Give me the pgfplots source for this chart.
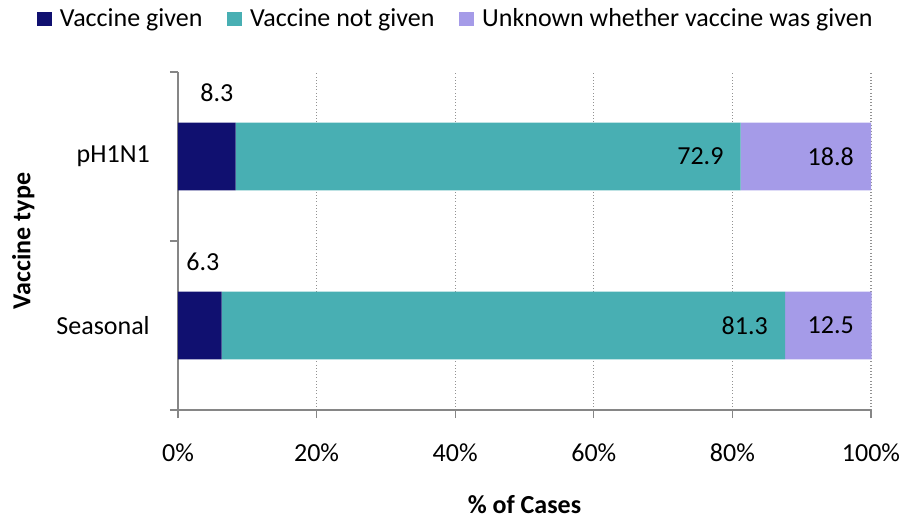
\documentclass[border=0pt]{standalone}
\usepackage{pgfplots}
\pgfplotsset{compat=1.18}
\usepackage{fontspec}
\setmainfont{Carlito}

\definecolor{cGiven}{HTML}{101070}
\definecolor{cNotGiven}{HTML}{48AFB3}
\definecolor{cUnknown}{HTML}{A59BE8}
\definecolor{axisgray}{HTML}{868686}

\newcommand{\chartfont}{\fontsize{19.5pt}{23pt}\selectfont}

\pgfplotsset{
  squarelegend/.style={
    legend image code/.code={\fill[##1] (0pt,-5.4pt) rectangle (11.25pt,5.4pt);}
  },
  frame/.style={
    at={(0,0)}, anchor=south west,
    scale only axis,
    width=519.75pt, height=253.5pt,
    xmin=0, xmax=100,
    ymin=-0.5, ymax=1.5,
    clip=false,
  },
}

\begin{document}
\begin{tikzpicture}
% page frame: 904 x 521 px at 0.75pt per px, axis box at (178px, 410px)
\path[use as bounding box] (-133.5pt,-83.25pt) rectangle (544.5pt,307.5pt);
\begin{axis}[
  frame,
  xbar stacked,
  bar width=0.4,
  axis x line*=bottom,
  axis y line*=left,
  axis line style={axisgray, line width=0.9pt, -},
  xtick={0,20,...,100},
  xticklabel={\pgfmathprintnumber{\tick}\%},
  /pgf/number format/assume math mode=true,
  tick align=outside,
  tick style={axisgray, line width=0.9pt},
  major tick length=6pt,
  xticklabel style={font=\chartfont, anchor=center, yshift=-26pt},
  % tick marks on the category boundaries, names at the bar centres
  ytick={-0.5,0.5,1.5},
  yticklabels={},
  extra y ticks={0,1},
  extra y tick labels={Seasonal,pH1N1},
  extra y tick style={major tick length=0pt,
    yticklabel style={font=\chartfont, anchor=east, inner sep=0pt, xshift=-21pt}},
  xmajorgrids=true,
  ymajorgrids=false,
  grid style={axisgray!90, dotted, line width=1pt},
  xlabel={\% of Cases},
  xlabel style={font=\chartfont\bfseries, at={(axis description cs:0.5,0)}, anchor=center, yshift=-71.25pt},
  ylabel={Vaccine type},
  ylabel style={font=\chartfont\bfseries, at={(axis description cs:-0.2232,0.5)}, anchor=center},
  squarelegend,
  legend columns=3,
  legend style={draw=none, fill=none, font=\chartfont,
    at={(0.399,1.157)}, anchor=center,
    nodes={inner xsep=0pt},
    /tikz/every odd column/.append style={column sep=6.25pt},
    /tikz/every even column/.append style={column sep=18.25pt}},
]
\addplot[fill=cGiven, draw=none]    coordinates {(6.3,0) (8.3,1)};
\addplot[fill=cNotGiven, draw=none] coordinates {(81.3,0) (72.9,1)};
\addplot[fill=cUnknown, draw=none]  coordinates {(12.5,0) (18.8,1)};
\legend{Vaccine given, Vaccine not given, Unknown whether vaccine was given}
\end{axis}

% value labels, set at the end of each segment
\begin{axis}[
  frame,
  hide axis,
  point meta=explicit symbolic,
  nodes near coords,
  nodes near coords style={font=\chartfont, text=black, inner sep=0pt},
]
\addplot[draw=none, mark=none,
  every node near coord/.append style={anchor=east, xshift=-1.5pt, yshift=47.6pt}]
  coordinates {(6.3,0) [6.3] (8.3,1) [8.3]};
\addplot[draw=none, mark=none,
  every node near coord/.append style={anchor=east, xshift=-12.75pt}]
  coordinates {(87.6,0) [81.3] (81.2,1) [72.9] (100,0) [12.5] (100,1) [18.8]};
\end{axis}
\end{tikzpicture}
\end{document}
